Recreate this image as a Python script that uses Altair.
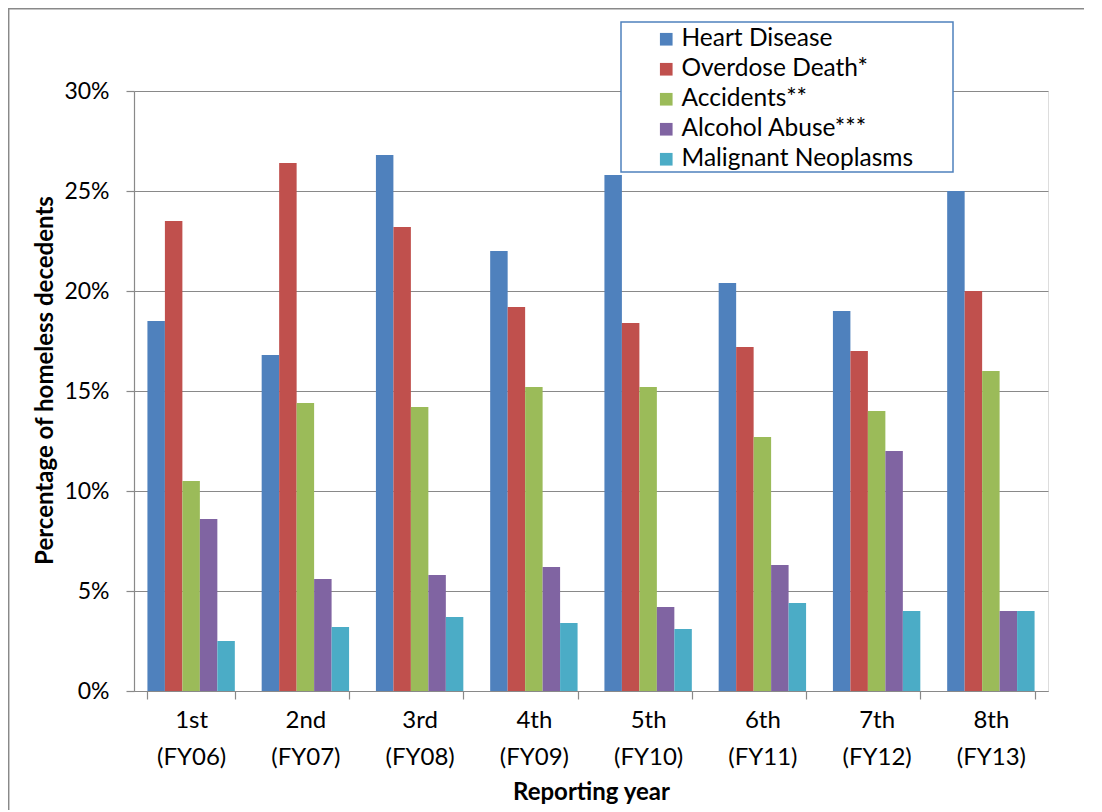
import altair as alt
import pandas as pd

categories = ["1st (FY06)", "2nd (FY07)", "3rd (FY08)", "4th (FY09)",
              "5th (FY10)", "6th (FY11)", "7th (FY12)", "8th (FY13)"]
series = ["Heart Disease", "Overdose Death*", "Accidents**",
          "Alcohol Abuse***", "Malignant Neoplasms"]
heart = [18.5, 16.8, 26.8, 22.0, 25.8, 20.4, 19.0, 25.0]
overdose = [23.5, 26.4, 23.2, 19.2, 18.4, 17.2, 17.0, 20.0]
accidents = [10.5, 14.4, 14.2, 15.2, 15.2, 12.7, 14.0, 16.0]
alcohol = [8.6, 5.6, 5.8, 6.2, 4.2, 6.3, 12.0, 4.0]
neoplasms = [2.5, 3.2, 3.7, 3.4, 3.1, 4.4, 4.0, 4.0]
colors = ["#4F81BD", "#C0504D", "#9BBB59", "#8064A2", "#4BACC6"]
y_ticks = [0, 5, 10, 15, 20, 25, 30]

values = [heart, overdose, accidents, alcohol, neoplasms]
rows = []
for s, vals in zip(series, values):
    for c, v in zip(categories, vals):
        rows.append({"year": c, "cause": s, "pct": v})
df = pd.DataFrame(rows)

FONT = "Lato"
GRAY = "#898989"

bars = alt.Chart(df).mark_bar().encode(
    x=alt.X("year:N", sort=categories,
            scale=alt.Scale(paddingInner=0.235, paddingOuter=0.1175),
            axis=alt.Axis(title="Reporting year", labelAngle=0,
                          labelExpr="split(datum.label, ' ')",
                          labelFontSize=24, labelLineHeight=37,
                          labelPadding=9, labelBaseline="top",
                          labelColor="#000000", labelFont=FONT,
                          tickBand="extent", tickSize=8, tickColor=GRAY,
                          domainColor=GRAY, domainWidth=1.2, tickWidth=1.2,
                          titleFont=FONT, titleFontSize=24, titleFontWeight="bold",
                          titleColor="#000000", titleX=457, titleY=101,
                          titleBaseline="middle", titleAlign="center",
                          grid=False)),
    xOffset=alt.XOffset("cause:N", sort=series,
                        scale=alt.Scale(domain=series, paddingInner=0, paddingOuter=0)),
    y=alt.Y("pct:Q", scale=alt.Scale(domain=[0, 30], nice=False),
            axis=alt.Axis(title="Percentage of homeless decedents",
                          values=y_ticks, labelExpr="datum.value + '%'",
                          labelFontSize=23, labelFont=FONT, labelColor="#000000",
                          labelPadding=17, tickSize=8, tickColor=GRAY, tickWidth=1.2,
                          domainColor=GRAY, domainWidth=1.2,
                          grid=True, gridColor=GRAY, gridWidth=1.2,
                          titleFont=FONT, titleFontSize=24, titleFontWeight="bold",
                          titleColor="#000000", titleX=-89, titleY=289,
                          titleBaseline="middle", titleAlign="center")),
    color=alt.Color("cause:N", scale=alt.Scale(domain=series, range=colors),
                    legend=alt.Legend(title=None, orient="none", legendX=520, legendY=-64,
                                      padding=0, symbolType="square", symbolSize=160,
                                      symbolStrokeWidth=0, labelFontSize=24.5,
                                      labelFont=FONT, labelColor="#000000",
                                      labelOffset=3, rowPadding=5, labelLimit=400)),
)

one = pd.DataFrame({"a": [0]})

box = alt.Chart(one).mark_rect(
    fill="white", stroke="#4F81BD", strokeWidth=1.5
).encode(x=alt.value(487), x2=alt.value(819), y=alt.value(-69), y2=alt.value(81))

frame_left = alt.Chart(one).mark_rule(
    color=GRAY, strokeWidth=1.5
).encode(x=alt.value(-125.3), y=alt.value(-83), y2=alt.value(720))

frame_top = alt.Chart(one).mark_rule(
    color=GRAY, strokeWidth=1.5
).encode(x=alt.value(-126), x2=alt.value(960), y=alt.value(-82.3))

chart = alt.layer(bars, box, frame_left, frame_top).properties(
    width=914, height=600,
    autosize=alt.AutoSizeParams(type="none"),
    padding={"left": 126, "top": 83, "right": 36, "bottom": 119},
).configure_view(stroke=None).configure(font=FONT, background="white")

chart.save("out.html", embed_options={"renderer": "svg", "actions": False})
